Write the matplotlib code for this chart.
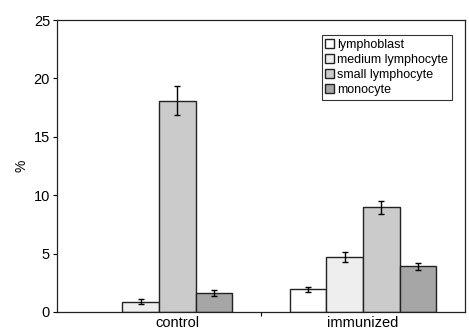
import numpy as np
import matplotlib
matplotlib.use("Agg")
import matplotlib.pyplot as plt
import matplotlib.transforms as mtransforms

plt.rcParams['font.family'] = ['Liberation Sans', 'DejaVu Sans']

groups = ['control', 'immunized']
cell_types = ['lymphoblast', 'medium lymphocyte', 'small lymphocyte', 'monocyte']
colors = ['#ffffff', '#eeeeee', '#cbcbcb', '#a6a6a6']

# percentages per cell type: [control, immunized]
values = [
    [np.nan, 1.95],
    [0.88, 4.72],
    [18.1, 8.95],
    [1.65, 3.92],
]
errors = [
    [np.nan, 0.2],
    [0.22, 0.4],
    [1.25, 0.52],
    [0.25, 0.3],
]

fig = plt.figure(figsize=(4.69, 3.29), dpi=100)
ax = fig.add_axes([0.1215, 0.0517, 0.87, 0.8873])

x = np.arange(len(groups))
w = 0.179
for i, name in enumerate(cell_types):
    pos = x + (i - 1.5) * w
    ax.bar(pos, values[i], w, color=colors[i], edgecolor='#222222',
           linewidth=1, label=name, zorder=2)
    ax.errorbar(pos, values[i], yerr=errors[i], fmt='none', ecolor='black',
                elinewidth=1, capsize=2.5, capthick=1, zorder=3)

ax.set_xlim(-0.5, 1.5)
ax.set_ylim(0, 25)
ax.set_yticks([0, 5, 10, 15, 20, 25])
ax.set_ylabel('%', fontsize=10, labelpad=4)
ax.tick_params(axis='y', labelsize=10.5, length=3, width=0.8, pad=2)

ax.set_xticks(x)
ax.set_xticklabels(groups, fontsize=10.5)
ax.tick_params(axis='x', which='major', length=0, pad=3)
ax.set_xticks([0.5], minor=True)
ax.tick_params(axis='x', which='minor', length=3, width=0.8, direction='out')

# nudge the control label to the right
lbl = ax.get_xticklabels()[0]
lbl.set_transform(lbl.get_transform() + mtransforms.ScaledTranslation(0.18, 0, fig.dpi_scale_trans))

for s in ax.spines.values():
    s.set_linewidth(0.9)
    s.set_color('#222222')

leg = ax.legend(loc='upper right', bbox_to_anchor=(0.968, 0.949), fontsize=9,
                frameon=True, fancybox=False, edgecolor='black',
                handlelength=0.7, handleheight=0.7, handletextpad=0.25,
                labelspacing=0.25, borderpad=0.3, borderaxespad=0)
leg.get_frame().set_linewidth(0.8)

fig.savefig('out.png', dpi=100)
